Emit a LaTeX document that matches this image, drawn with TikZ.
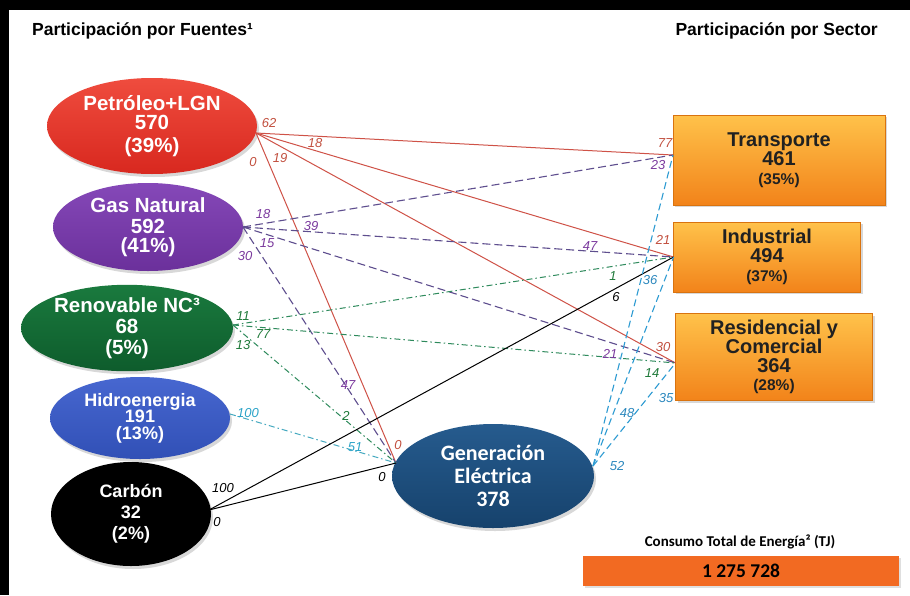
\documentclass[tikz,border=0pt]{standalone}
\usepackage{fontspec}
\setmainfont{Liberation Sans}
\newfontfamily\calib{Carlito}
\usetikzlibrary{shapes.geometric,shadows,calc}
\newcommand\pctsize{\fontsize{15.5}{16}\selectfont}
\definecolor{petL}{HTML}{EF4C3E}\definecolor{petD}{HTML}{D8281F}
\definecolor{gasL}{HTML}{8548B8}\definecolor{gasD}{HTML}{6B309B}
\definecolor{renL}{HTML}{1A7A3E}\definecolor{renD}{HTML}{0E5C2C}
\definecolor{hidL}{HTML}{4767D0}\definecolor{hidD}{HTML}{3150B6}
\definecolor{genL}{HTML}{265B8E}\definecolor{genD}{HTML}{16426C}
\definecolor{boxL}{HTML}{FFC24A}\definecolor{boxD}{HTML}{F2831A}
\definecolor{boxE}{HTML}{D9730F}\definecolor{cons}{HTML}{F26A22}
\definecolor{lnred}{HTML}{CF5247}\definecolor{lnpur}{HTML}{5E4E8E}
\definecolor{lngrn}{HTML}{2E8A5C}\definecolor{lncya}{HTML}{45A9C0}
\definecolor{lnblu}{HTML}{2D9BD2}
\definecolor{lbred}{HTML}{C2503F}\definecolor{lbpur}{HTML}{7B3A9E}
\definecolor{lbgrn}{HTML}{1F7A3A}\definecolor{lbcya}{HTML}{2AA3C8}
\definecolor{lbblu}{HTML}{2C88BE}
\begin{document}
\begin{tikzpicture}[x=1pt,y=-1pt,
  src/.style={ellipse, inner sep=0pt, outer sep=0pt, text=white, align=center,
    font=\bfseries\fontsize{20.5}{22}\selectfont,
    drop shadow={opacity=0.3, shadow xshift=2pt, shadow yshift=-3pt}},
  sect/.style={rectangle, inner sep=0pt, outer sep=0pt, top color=boxL, bottom color=boxD,
    draw=boxE, line width=0.6pt, align=center, text=black!87,
    font=\bfseries\fontsize{20}{19}\selectfont,
    drop shadow={opacity=0.3, shadow xshift=2pt, shadow yshift=-2pt}},
  lbl/.style={font=\itshape\fontsize{13}{13}\selectfont, inner sep=0pt},
  redln/.style={draw=lnred, line width=1pt},
  purln/.style={draw=lnpur, line width=1.1pt, dash pattern=on 8pt off 4pt},
  grnln/.style={draw=lngrn, line width=1pt, dash pattern=on 6pt off 3pt on 1.5pt off 3pt},
  cyaln/.style={draw=lncya, line width=1pt, dash pattern=on 6pt off 3pt on 1.5pt off 3pt},
  bluln/.style={draw=lnblu, line width=1.1pt, dash pattern=on 7pt off 4pt},
  blkln/.style={draw=black, line width=1pt},
  title/.style={font=\bfseries\fontsize{17.5}{18}\selectfont, inner sep=0pt}
]
\useasboundingbox (0,0) rectangle (910,595);
\fill[white] (0,0) rectangle (910,595);
\fill[black] (0,0) rectangle (910,10);
\fill[black] (0,0) rectangle (9,595);

\node[title, anchor=west] (tf) at (32,31) {Participación por Fuentes¹};
\node[title, anchor=east] (ts) at (878,31) {Participación por Sector};

% sources
\node[src, top color=petL, bottom color=petD, minimum width=210pt, minimum height=96pt, font=\bfseries\fontsize{20.5}{19}\selectfont] (pet) at (152,126) {Petróleo+LGN\\570\\[4pt](39\%)};
\node[src, top color=gasL, bottom color=gasD, minimum width=190pt, minimum height=88pt, font=\bfseries\fontsize{20.5}{20}\selectfont] (gas) at (148,227) {Gas Natural\\[1pt]592\\[-1.5pt](41\%)};
\node[src, top color=renL, bottom color=renD, minimum width=212pt, minimum height=86pt, font=\bfseries\fontsize{20.5}{21}\selectfont] (ren) at (127,328) {Renovable NC³\\68\\(5\%)};
\node[src, top color=hidL, bottom color=hidD, minimum width=180pt, minimum height=82pt, font=\bfseries\fontsize{18}{16.5}\selectfont] (hid) at (140,418) {Hidroenergia\\191\\(13\%)};
\node[src, fill=black, minimum width=160pt, minimum height=104pt, font=\bfseries\fontsize{18}{21}\selectfont] (car) at (131,514) {Carbón\\32\\(2\%)};
\node[src, top color=genL, bottom color=genD, minimum width=202pt, minimum height=104pt, font=\calib\bfseries\fontsize{22}{23}\selectfont] (gen) at (493,476) {Generación\\Eléctrica\\378};

% sectors
\node[sect, minimum width=212pt, minimum height=90pt] (tra) at (779,160) {Transporte\\461\\{\pctsize(35\%)}};
\node[sect, minimum width=187pt, minimum height=70pt] (ind) at (767,257) {Industrial\\494\\{\pctsize(37\%)}};
\node[sect, minimum width=197pt, minimum height=87pt, font=\bfseries\fontsize{20}{18.5}\selectfont] (res) at (774,357) {Residencial y\\Comercial\\364\\{\pctsize(28\%)}};

% total
\node[font=\calib\bfseries\fontsize{15}{16}\selectfont, inner sep=0pt] (ctl) at (740,542) {Consumo Total de Energía² (TJ)};
\node[rectangle, fill=cons, minimum width=316pt, minimum height=30pt, inner sep=0pt,
  font=\calib\bfseries\fontsize{19.5}{20}\selectfont,
  drop shadow={opacity=0.25, shadow xshift=1.5pt, shadow yshift=-1.5pt}] (ctv) at (741,571) {1 275 728};

% anchors
\coordinate (pOut) at ($(pet.center)+(104,7)$);
\coordinate (sOut) at ($(gas.center)+(95,0)$);
\coordinate (rOut) at ($(ren.center)+(106,-3)$);
\coordinate (hOut) at ($(hid.center)+(90,-4)$);
\coordinate (cOut) at ($(car.center)+(78,-4)$);
\coordinate (tIn) at ($(tra.west)+(0,-5)$);
\coordinate (iIn) at (ind.west);
\coordinate (rIn) at ($(res.west)+(0,6)$);
\coordinate (gIn) at ($(gen.center)+(-97,-13)$);
\coordinate (gOut) at ($(gen.center)+(100,-10)$);

% connectors
\draw[redln] (pOut) -- (tIn);
\draw[redln] (pOut) -- (iIn);
\draw[redln] (pOut) -- (rIn);
\draw[redln] (pOut) -- (gIn);
\draw[purln] (sOut) -- (tIn);
\draw[purln] (sOut) -- (iIn);
\draw[purln] (sOut) -- (rIn);
\draw[purln] (sOut) -- (gIn);
\draw[grnln] (rOut) -- (iIn);
\draw[grnln] (rOut) -- (rIn);
\draw[grnln] (rOut) -- (gIn);
\draw[cyaln] (hOut) -- (gIn);
\draw[blkln] (cOut) -- (iIn);
\draw[blkln] (cOut) -- (gIn);
\draw[bluln] (gOut) -- (tIn);
\draw[bluln] (gOut) -- (iIn);
\draw[bluln] (gOut) -- (rIn);

% labels
\begin{scope}[text=lbred]
\node[lbl] (l1) at (269,123) {62};
\node[lbl] (l2) at (315,143) {18};
\node[lbl] (l3) at (280,158) {19};
\node[lbl] (l4) at (253,162) {0};
\node[lbl] (l5) at (665,143) {77};
\node[lbl] (l6) at (663,240) {21};
\node[lbl] (l7) at (663,347) {30};
\node[lbl] (l8) at (398,445) {0};
\end{scope}
\begin{scope}[text=lbpur]
\node[lbl] (m1) at (263,214) {18};
\node[lbl] (m2) at (311,226) {39};
\node[lbl] (m3) at (267,243) {15};
\node[lbl] (m4) at (245,256) {30};
\node[lbl] (m5) at (658,165) {23};
\node[lbl] (m6) at (590,246) {47};
\node[lbl] (m7) at (610,354) {21};
\node[lbl] (m8) at (348,385) {47};
\end{scope}
\begin{scope}[text=lbgrn]
\node[lbl] (n1) at (243,316) {11};
\node[lbl] (n2) at (263,334) {77};
\node[lbl] (n3) at (243,345) {13};
\node[lbl] (n4) at (613,276) {1};
\node[lbl] (n5) at (652,373) {14};
\node[lbl] (n6) at (346,416) {2};
\end{scope}
\begin{scope}[text=lbcya]
\node[lbl] (o1) at (248,413) {100};
\node[lbl] (o2) at (355,447) {51};
\end{scope}
\begin{scope}[text=black]
\node[lbl] (p1) at (223,488) {100};
\node[lbl] (p2) at (217,522) {0};
\node[lbl] (p3) at (616,297) {6};
\node[lbl] (p4) at (382,477) {0};
\end{scope}
\begin{scope}[text=lbblu]
\node[lbl] (q1) at (617,466) {52};
\node[lbl] (q2) at (627,413) {48};
\node[lbl] (q3) at (666,398) {35};
\node[lbl] (q4) at (650,280) {36};
\end{scope}
\end{tikzpicture}
\end{document}
